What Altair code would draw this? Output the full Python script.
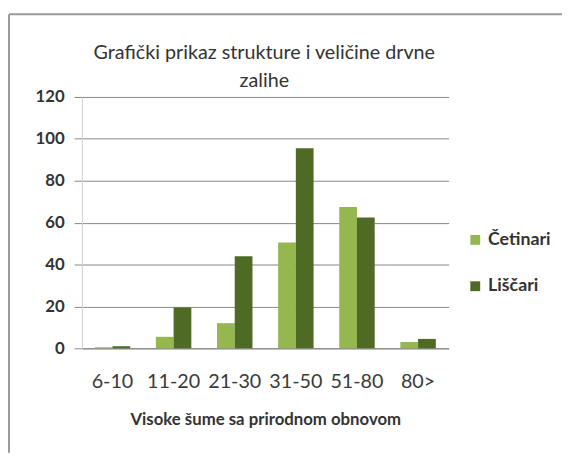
import altair as alt
import pandas as pd

categories = ["6-10", "11-20", "21-30", "31-50", "51-80", "80>"]
cetinari = [0.5, 5.5, 12, 50.5, 67.5, 3]
liscari = [1, 19.5, 44, 95.5, 62.5, 4.5]
series = ["Četinari", "Liščari"]
colors = ["#94B84F", "#4F6A24"]
title_text = "Grafički prikaz strukture i veličine drvne\nzalihe"

rows = []
for i, c in enumerate(categories):
    rows.append({"cat": c, "series": series[0], "value": cetinari[i]})
    rows.append({"cat": c, "series": series[1], "value": liscari[i]})
df = pd.DataFrame(rows)

FONT = "Lato"

bars = alt.Chart(df).mark_bar(size=18).encode(
    x=alt.X("cat:N", sort=categories,
            scale=alt.Scale(paddingInner=0.42, paddingOuter=0.21),
            axis=alt.Axis(title="Visoke šume sa prirodnom obnovom", labelAngle=0,
                          labelFontSize=20, labelColor="#3a3a3a", labelPadding=24,
                          labelOverlap=False, ticks=False, domain=True,
                          domainColor="#868686", titleFontSize=17, titleFontWeight="bold",
                          titleColor="#333333", titlePadding=20, labelFont=FONT, titleFont=FONT)),
    xOffset=alt.XOffset("series:N", sort=series),
    y=alt.Y("value:Q", scale=alt.Scale(domain=[0, 120]),
            axis=alt.Axis(title=None, values=[0, 20, 40, 60, 80, 100, 120],
                          labelFontSize=17, labelFontWeight="bold", labelColor="#333333",
                          tickSize=8, tickColor="#868686", labelPadding=10,
                          gridColor="#868686", domainColor="#d0d0d0", labelFont=FONT)),
    color=alt.Color("series:N", sort=series,
                    scale=alt.Scale(domain=series, range=colors),
                    legend=alt.Legend(title=None, orient="none", legendX=390, legendY=136,
                                      symbolType="square", symbolSize=100, symbolStrokeWidth=0,
                                      labelFontSize=18, labelFontWeight="bold", padding=0,
                                      labelColor="#333333", rowPadding=29, labelFont=FONT)),
)

frame_df = pd.DataFrame({"k": [0]})
vline = alt.Chart(frame_df).mark_rule(color="#9a9a9a", strokeWidth=2).encode(
    x=alt.value(-74), y=alt.value(-84), y2=alt.value(361))
hline = alt.Chart(frame_df).mark_rule(color="#9a9a9a", strokeWidth=2).encode(
    x=alt.value(-74), x2=alt.value(487), y=alt.value(-84))
title = alt.Chart(frame_df).mark_text(
    font=FONT, fontSize=20, color="#333333", align="center", baseline="alphabetic",
    lineBreak="\n", lineHeight=28).encode(
    x=alt.value(185), y=alt.value(-38), text=alt.value(title_text))

chart = alt.layer(vline, hline, title, bars).properties(
    width=372, height=255,
    padding={"left": 75, "top": 87, "right": 115, "bottom": 106},
    autosize=alt.AutoSizeParams(type="none"),
    background="white",
).configure_view(stroke=None)

chart.save("out.html", embed_options={"renderer": "svg", "actions": False})
